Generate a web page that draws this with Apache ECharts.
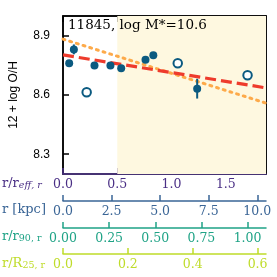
<!DOCTYPE html>
<html>
<head>
<meta charset="utf-8">
<script src="https://cdn.jsdelivr.net/npm/echarts@6/dist/echarts.min.js"></script>
<style>html,body{margin:0;padding:0;background:#fff}#c{width:277px;height:277px}</style>
</head>
<body>
<div id="c"></div>
<script>
// ---- data ----
var filledX = [0.057, 0.100, 0.290, 0.437, 0.536, 0.760, 0.832, 1.236];
var filledY = [8.761, 8.831, 8.750, 8.750, 8.735, 8.779, 8.801, 8.632];
var filledErr = [0.010, 0.025, 0.010, 0.010, 0.010, 0.010, 0.010, 0.050];
var openX = [0.218, 1.057, 1.700];
var openY = [8.614, 8.761, 8.700];
var fitX = [0, 1.87];
var redFitY = [8.803, 8.636];
var orangeFitY = [8.883, 8.559];
var shadeFrom = 0.5;
var reffTicks = [0, 0.5, 1.0, 1.5];
var kpcTicks = [0, 2.5, 5.0, 7.5, 10.0];
var r90Ticks = [0, 0.25, 0.5, 0.75, 1.0];
var r25Ticks = [0, 0.2, 0.4, 0.6];
var yTicks = [8.3, 8.6, 8.9];
var reffMax = 1.87, kpcMax = 10.45, r90Max = 1.10, r25Max = 0.626;
var yMin = 8.2, yMax = 9.0;
var title = '11845, log M*=10.6';

var cPurple = '#4a2f85', cBlue = '#3a6596', cGreen = '#1fa386', cYel = '#bfdc2a';
var ptColor = '#0b5a80';
var serif = '"DejaVu Serif", serif';
var sans = '"Liberation Sans", Arial, sans-serif';

function zip(a, b) { return a.map(function (v, i) { return [v, b[i]]; }); }

function secAxis(max, ticks, dec, color, offset) {
  return {
    type: 'value', position: 'bottom', offset: offset, min: 0, max: max,
    axisLine: { show: true, onZero: false, lineStyle: { color: color, width: 1.5 } },
    axisTick: { show: true, inside: true, length: 6, customValues: ticks, lineStyle: { color: color, width: 1.5 } },
    axisLabel: { show: true, customValues: ticks, margin: 4, color: color, fontFamily: serif, fontSize: 12.5,
      formatter: function (v) { return v.toFixed(dec); } },
    splitLine: { show: false }
  };
}
function nameRich(main, sub, color, italicSub) {
  return {
    text: '{a|' + main + '}{s|' + sub + '}',
    rich: {
      a: { fontFamily: serif, fontSize: 13, fill: color },
      s: { fontFamily: serif, fontSize: 9.5, fontStyle: italicSub ? 'italic' : 'normal', fill: color, padding: [5, 0, 0, 0] }
    }
  };
}

var chart = echarts.init(document.getElementById('c'), null, { renderer: 'canvas' });
chart.setOption({
  animation: false,
  grid: { left: 58, top: 16, width: 208, height: 158, show: true, borderColor: '#000', borderWidth: 1.5, backgroundColor: 'transparent' },
  xAxis: [
    secAxis(reffMax, reffTicks, 1, cPurple, 0),
    secAxis(kpcMax, kpcTicks, 1, cBlue, 27),
    secAxis(r90Max, r90Ticks, 2, cGreen, 54),
    secAxis(r25Max, r25Ticks, 1, cYel, 80),
    { type: 'value', position: 'top', min: 0, max: reffMax,
      axisLine: { show: true, onZero: false, lineStyle: { color: '#000', width: 1.5 } },
      axisTick: { show: true, inside: true, length: 6, customValues: reffTicks, lineStyle: { color: '#000', width: 1.5 } },
      axisLabel: { show: false }, splitLine: { show: false } }
  ],
  yAxis: [
    { type: 'value', position: 'left', min: yMin, max: yMax,
      name: '12 + log O/H', nameLocation: 'middle', nameGap: 43, nameRotate: 90,
      nameTextStyle: { fontFamily: sans, fontSize: 12, color: '#000' },
      axisLine: { show: true, onZero: false, lineStyle: { color: '#000', width: 1.5 } },
      axisTick: { show: true, inside: true, length: 6, customValues: yTicks, lineStyle: { color: '#000', width: 1.5 } },
      axisLabel: { customValues: yTicks, margin: 13, color: '#000', fontFamily: sans, fontSize: 12,
        formatter: function (v) { return v.toFixed(1); } },
      splitLine: { show: false } },
    { type: 'value', position: 'right', min: yMin, max: yMax,
      axisLine: { show: true, onZero: false, lineStyle: { color: '#000', width: 1.5 } },
      axisTick: { show: true, inside: true, length: 6, customValues: yTicks, lineStyle: { color: '#000', width: 1.5 } },
      axisLabel: { show: false }, splitLine: { show: false } }
  ],
  graphic: [
    { type: 'text', left: 68, top: 18, style: { text: title, font: '13.5px ' + serif, fill: '#000' }, z: 100 },
    { type: 'text', left: 2, top: 177, style: nameRich('r/r', 'eff, r', cPurple, true) },
    { type: 'text', left: 2, top: 203, style: { text: 'r [kpc]', font: '13px ' + serif, fill: cBlue } },
    { type: 'text', left: 2, top: 230, style: nameRich('r/r', '90, r', cGreen, false) },
    { type: 'text', left: 2, top: 257, style: nameRich('r/R', '25, r', cYel, false) }
  ],
  series: [
    { type: 'line', xAxisIndex: 0, yAxisIndex: 0, data: zip(fitX, orangeFitY), symbol: 'none', z: 3,
      lineStyle: { color: '#fdaa4a', width: 3, type: [2, 5], cap: 'round' },
      markArea: { silent: true, itemStyle: { color: '#fef8e0' }, data: [[{ xAxis: shadeFrom }, { xAxis: reffMax }]] } },
    { type: 'line', xAxisIndex: 0, yAxisIndex: 0, data: zip(fitX, redFitY), symbol: 'none', z: 4,
      lineStyle: { color: '#ee3b2c', width: 3.2, type: [11, 5] } },
    { type: 'custom', xAxisIndex: 0, yAxisIndex: 0, z: 5,
      data: filledX.map(function (x, i) { return [x, filledY[i] - filledErr[i], filledY[i] + filledErr[i]]; }),
      renderItem: function (params, api) {
        var lo = api.coord([api.value(0), api.value(1)]);
        var hi = api.coord([api.value(0), api.value(2)]);
        return { type: 'line', shape: { x1: lo[0], y1: lo[1], x2: hi[0], y2: hi[1] }, style: { stroke: ptColor, lineWidth: 2 } };
      } },
    { type: 'scatter', xAxisIndex: 0, yAxisIndex: 0, data: zip(filledX, filledY), symbol: 'circle', symbolSize: 8, z: 6,
      itemStyle: { color: ptColor, opacity: 1 } },
    { type: 'scatter', xAxisIndex: 0, yAxisIndex: 0, data: zip(openX, openY), symbol: 'circle', symbolSize: 8.5, z: 6,
      itemStyle: { color: '#fff', borderColor: ptColor, borderWidth: 2, opacity: 1 } }
  ]
});
</script>
</body>
</html>
